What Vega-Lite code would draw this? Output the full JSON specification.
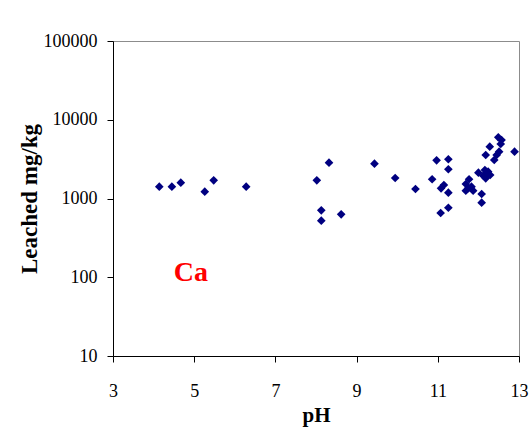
{
  "$schema": "https://vega.github.io/schema/vega-lite/v6.json",
  "width": 406,
  "height": 315,
  "autosize": "none",
  "padding": {"left": 113, "top": 41, "right": 12, "bottom": 79},
  "background": "white",
  "config": {
    "font": "Liberation Serif",
    "view": {"stroke": "#8c8c8c", "strokeWidth": 1, "fill": "white"}
  },
  "datasets": {
    "pts": [
      {"pH": 4.14, "v": 1413}, {"pH": 4.45, "v": 1413}, {"pH": 4.67, "v": 1588},
      {"pH": 5.26, "v": 1222}, {"pH": 5.48, "v": 1702}, {"pH": 6.28, "v": 1413},
      {"pH": 8.02, "v": 1702}, {"pH": 8.32, "v": 2850}, {"pH": 8.13, "v": 708},
      {"pH": 8.13, "v": 523}, {"pH": 8.62, "v": 630}, {"pH": 9.44, "v": 2767},
      {"pH": 9.95, "v": 1820}, {"pH": 10.45, "v": 1321},
      {"pH": 10.86, "v": 1755}, {"pH": 10.97, "v": 3055}, {"pH": 11.26, "v": 3150},
      {"pH": 11.26, "v": 2350}, {"pH": 11.08, "v": 1346}, {"pH": 11.15, "v": 1483},
      {"pH": 11.26, "v": 1186}, {"pH": 11.07, "v": 655}, {"pH": 11.26, "v": 764},
      {"pH": 12.0, "v": 2130}, {"pH": 11.77, "v": 1755}, {"pH": 11.69, "v": 1528},
      {"pH": 11.69, "v": 1256}, {"pH": 11.83, "v": 1413}, {"pH": 11.87, "v": 1256},
      {"pH": 12.08, "v": 1141}, {"pH": 12.08, "v": 885}, {"pH": 12.18, "v": 3565},
      {"pH": 12.28, "v": 4550}, {"pH": 12.16, "v": 2300}, {"pH": 12.24, "v": 2190},
      {"pH": 12.18, "v": 1803}, {"pH": 12.29, "v": 1986}, {"pH": 12.39, "v": 3085},
      {"pH": 12.45, "v": 3565}, {"pH": 12.51, "v": 3930}, {"pH": 12.49, "v": 5985},
      {"pH": 12.57, "v": 5530}, {"pH": 12.55, "v": 4920}, {"pH": 12.89, "v": 3930},
      {"pH": 12.22, "v": 2050}, {"pH": 11.75, "v": 1350}, {"pH": 12.12, "v": 1950}
    ],
    "lbl": [{"pH": 4.92, "v": 113, "t": "Ca"}]
  },
  "layer": [
    {
      "data": {"name": "pts"},
      "mark": {"type": "point", "shape": "diamond", "filled": true, "size": 75, "color": "#000080", "opacity": 1},
      "encoding": {
        "x": {
          "field": "pH", "type": "quantitative",
          "scale": {"domain": [3, 13], "nice": false, "zero": false},
          "axis": {
            "values": [3, 5, 7, 9, 11, 13], "grid": false, "title": "pH",
            "domainColor": "black", "tickColor": "black", "tickSize": 6,
            "labelFont": "Liberation Serif", "labelFontSize": 18, "labelColor": "black", "labelPadding": 20, "labelFlush": false,
            "titleFont": "Liberation Serif", "titleFontSize": 21, "titleFontWeight": "bold", "titleColor": "black", "titlePadding": 4
          }
        },
        "y": {
          "field": "v", "type": "quantitative",
          "scale": {"type": "log", "domain": [10, 100000], "nice": false},
          "axis": {
            "values": [10, 100, 1000, 10000, 100000], "format": "d", "grid": false,
            "title": "Leached mg/kg",
            "domainColor": "black", "tickColor": "black", "tickSize": 6,
            "labelFont": "Liberation Serif", "labelFontSize": 18, "labelColor": "black", "labelPadding": 10, "labelFlush": false,
            "titleFont": "Liberation Serif", "titleFontSize": 23, "titleFontWeight": "bold", "titleColor": "black", "titlePadding": 2
          }
        }
      }
    },
    {
      "data": {"name": "lbl"},
      "mark": {"type": "text", "font": "Liberation Serif", "color": "red", "fontSize": 28, "fontWeight": "bold", "align": "center", "baseline": "middle"},
      "encoding": {
        "x": {"field": "pH", "type": "quantitative"},
        "y": {"field": "v", "type": "quantitative"},
        "text": {"field": "t"}
      }
    }
  ]
}
